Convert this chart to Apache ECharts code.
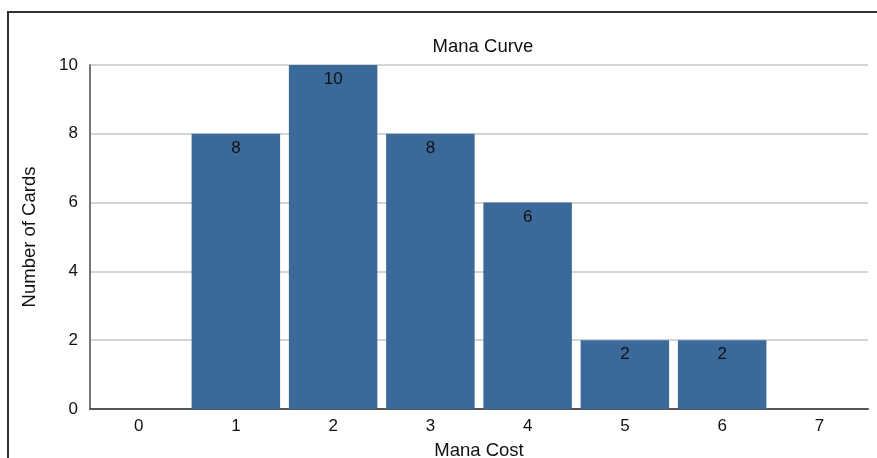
<!DOCTYPE html>
<html>
<head>
<meta charset="utf-8">
<script src="https://cdn.jsdelivr.net/npm/echarts@6/dist/echarts.min.js"></script>
<style>
  html, body { margin: 0; padding: 0; background: #fff; }
  #chart { width: 877px; height: 458px; }
</style>
</head>
<body>
<div id="chart"></div>
<script>
let manaCost = ['0', '1', '2', '3', '4', '5', '6', '7'];
let cardCounts = [0, 8, 10, 8, 6, 2, 2, 0];

let myChart = echarts.init(document.getElementById('chart'));
let option = {
  animation: false,
  title: {
    text: 'Mana Curve',
    left: 478,
    top: 32,
    textAlign: 'center',
    textStyle: { fontSize: 18.5, fontWeight: 'normal', color: '#111', fontFamily: 'Liberation Sans' }
  },
  // outer frame, only left and top edges visible in the crop
  graphic: [{
    type: 'rect',
    shape: { x: 8, y: 12, width: 1000, height: 600 },
    style: { fill: 'none', stroke: '#333', lineWidth: 2 }
  }],
  grid: { left: 90, right: 9, top: 65, bottom: 49, outerBoundsMode: 'none', containLabel: false },
  xAxis: {
    type: 'category',
    data: manaCost,
    name: 'Mana Cost',
    nameLocation: 'middle',
    nameGap: 32,
    nameTextStyle: { fontSize: 18.5, color: '#111', fontFamily: 'Liberation Sans' },
    axisLine: { lineStyle: { color: '#555', width: 2 } },
    axisTick: { show: false },
    axisLabel: { fontSize: 17, color: '#111', margin: 9, fontFamily: 'Liberation Sans' }
  },
  yAxis: {
    type: 'value',
    min: 0,
    max: 10,
    interval: 2,
    name: 'Number of Cards',
    nameLocation: 'middle',
    nameGap: 51,
    nameTextStyle: { fontSize: 18.5, color: '#111', fontFamily: 'Liberation Sans' },
    axisLine: { show: true, lineStyle: { color: '#777', width: 2 } },
    axisTick: { show: false },
    axisLabel: { fontSize: 17, color: '#111', margin: 12, fontFamily: 'Liberation Sans' },
    splitLine: { lineStyle: { color: '#d4d4d4', width: 2 } }
  },
  series: [{
    type: 'bar',
    data: cardCounts,
    barCategoryGap: '9%',
    itemStyle: { color: '#3b6999' },
    label: {
      show: true,
      position: 'insideTop',
      distance: 6,
      fontSize: 17,
      color: '#111',
      fontFamily: 'Liberation Sans',
      formatter: p => p.value > 0 ? p.value : ''
    }
  }]
};
myChart.setOption(option);
</script>
</body>
</html>
